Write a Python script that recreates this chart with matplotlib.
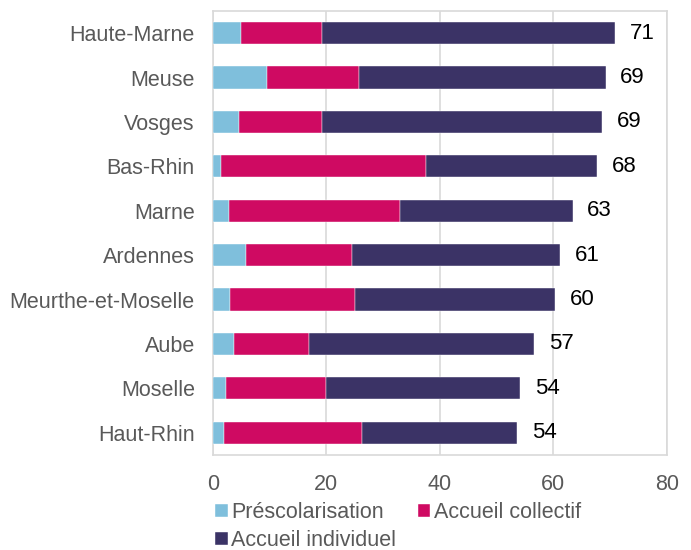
import matplotlib.pyplot as plt
import numpy as np

plt.rcParams['font.family'] = ['Liberation Sans', 'DejaVu Sans']

departements = ["Haute-Marne", "Meuse", "Vosges", "Bas-Rhin", "Marne", "Ardennes",
                "Meurthe-et-Moselle", "Aube", "Moselle", "Haut-Rhin"]
prescolarisation = [5.0, 9.5, 4.6, 1.5, 2.9, 5.8, 3.0, 3.7, 2.3, 1.9]
accueil_collectif = [14.3, 16.2, 14.7, 36.0, 30.0, 18.8, 22.1, 13.3, 17.7, 24.3]
accueil_individuel = [51.6, 43.5, 49.3, 30.2, 30.5, 36.6, 35.2, 39.6, 34.2, 27.4]
totaux = [71, 69, 69, 68, 63, 61, 60, 57, 54, 54]

series = [
    ("Préscolarisation", prescolarisation, "#7FBFDC"),
    ("Accueil collectif", accueil_collectif, "#CF0A62"),
    ("Accueil individuel", accueil_individuel, "#3B3366"),
]

fig = plt.figure(figsize=(6.91, 5.5), dpi=100)
ax = fig.add_axes([0.308, 0.173, 0.657, 0.807])

y = np.arange(len(departements))
left = np.zeros(len(departements))
handles = []
for nom, vals, col in series:
    b = ax.barh(y, vals, left=left, height=0.5, color=col, label=nom,
                edgecolor="white", linewidth=0.3, zorder=3)
    handles.append(b)
    left = left + np.array(vals)

for yi, tot, t in zip(y, left, totaux):
    ax.text(tot + 2.6, yi, str(t), va="center", ha="left", fontsize=16, color="black")

ax.set_xlim(0, 80)
ax.set_ylim(len(departements) - 0.5, -0.5)
ax.set_xticks([0, 20, 40, 60, 80])
ax.set_yticks(y)
ax.set_yticklabels(departements)
ax.tick_params(axis="both", length=0, colors="#595959", labelsize=15.5)
ax.tick_params(axis="x", pad=14)
ax.tick_params(axis="y", pad=13)
ax.grid(axis="x", color="#D9D9D9", linewidth=1.2, zorder=0)
for s in ax.spines.values():
    s.set_color("#D9D9D9")
    s.set_linewidth(1.2)

leg = fig.legend([handles[0], handles[2], handles[1]],
                 ["Préscolarisation", "Accueil individuel", "Accueil collectif"],
                 ncol=2, loc="upper left", bbox_to_anchor=(0.311, 0.087),
                 frameon=False, fontsize=15.5, handlelength=0.6, handleheight=0.6,
                 handletextpad=0.15, columnspacing=1.0, labelspacing=0.32,
                 borderpad=0, borderaxespad=0)
for t in leg.get_texts():
    t.set_color("#595959")

fig.savefig("out.png", dpi=100)
